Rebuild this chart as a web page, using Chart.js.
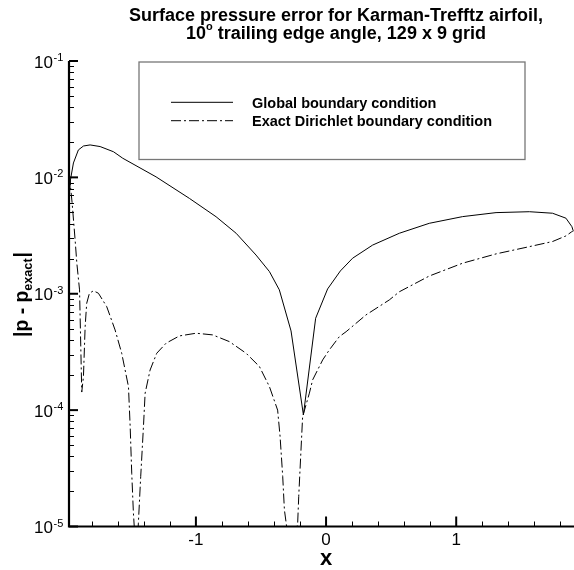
<!DOCTYPE html>
<html>
<head>
<meta charset="utf-8">
<title>Surface pressure error</title>
<script src="https://cdn.jsdelivr.net/npm/chart.js@4"></script>
<style>
    body { margin: 0; background: #fff; }
    canvas { display: block; }
</style>
</head>
<body>
<canvas id="errorChart" width="574" height="570"></canvas>
<script>
// Values
const globalX = [-1.972, -1.964, -1.941, -1.903, -1.864, -1.813, -1.736, -1.633, -1.562, -1.306, -1.050,
    -0.845, -0.691, -0.538, -0.435, -0.359, -0.269, -0.174, -0.080, 0.012, 0.110, 0.204, 0.358, 0.563,
    0.793, 1.049, 1.306, 1.562, 1.740, 1.843, 1.889, 1.899, 1.893];
const globalErr = [7.06e-3, 9.5e-3, 1.33e-2, 1.72e-2, 1.86e-2, 1.90e-2, 1.84e-2, 1.66e-2, 1.46e-2, 1.01e-2, 6.6e-3,
    4.59e-3, 3.31e-3, 2.15e-3, 1.55e-3, 1.08e-3, 4.79e-4, 9.1e-5, 6.16e-4, 1.10e-3, 1.57e-3, 2.02e-3, 2.62e-3, 3.31e-3,
    4.03e-3, 4.60e-3, 4.98e-3, 5.07e-3, 4.92e-3, 4.46e-3, 3.77e-3, 3.47e-3, 3.40e-3];

const dirichletX = [-1.972, -1.951, -1.928, -1.915, -1.894, -1.877, -1.864, -1.851, -1.839, -1.818, -1.787,
    -1.749, -1.685, -1.621, -1.570, -1.518, -1.505, -1.493, -1.480, -1.457, -1.442, -1.424, -1.403, -1.390,
    -1.352, -1.301, -1.229, -1.127, -0.998, -0.871, -0.743, -0.614, -0.512, -0.435, -0.372, -0.353, -0.333,
    -0.320, -0.267, -0.218, -0.210, -0.180, -0.128, -0.103, -0.026, 0.025, 0.102, 0.154, 0.307, 0.486, 0.563,
    0.793, 1.049, 1.306, 1.562, 1.740, 1.843, 1.889];
const dirichletErr = [1.05e-2, 6.03e-3, 2.90e-3, 1.84e-3, 1.08e-3, 1.43e-4, 1.94e-4, 5.21e-4, 8.28e-4, 1.01e-3, 1.06e-3,
    1.01e-3, 7.74e-4, 4.89e-4, 3.08e-4, 1.59e-4, 7.2e-5, 2.87e-5, 1.30e-5, 5.0e-6, 1.07e-5, 2.69e-5, 7.2e-5, 1.40e-4,
    2.21e-4, 3.08e-4, 3.76e-4, 4.34e-4, 4.58e-4, 4.43e-4, 3.88e-4, 3.08e-4, 2.37e-4, 1.59e-4, 1.00e-4, 5.9e-5, 2.69e-5,
    1.39e-5, 5.0e-6, 1.07e-5, 1.81e-5, 8.8e-5, 1.40e-4, 1.82e-4, 2.70e-4, 3.29e-4, 4.28e-4, 4.72e-4, 6.58e-4, 8.85e-4, 1.04e-3,
    1.42e-3, 1.83e-3, 2.20e-3, 2.54e-3, 2.81e-3, 3.14e-3, 3.42e-3];

const seriesLabels = ["Global boundary condition", "Exact Dirichlet boundary condition"];
const xTickLabels = [-1, 0, 1];
const yTickExponents = [-1, -2, -3, -4, -5];
const titleLine1 = "Surface pressure error for Karman-Trefftz airfoil,";
const titleLine2 = ["10", "o", " trailing edge angle, 129 x 9 grid"];

const FONT = '"Liberation Sans", Arial, Helvetica, sans-serif';

function toPoints(xs, ys) {
    return xs.map((x, i) => ({ x: x, y: ys[i] }));
}

const decorPlugin = {
    id: "decor",
    afterDraw(chart) {
        const ctx = chart.ctx;
        const xs = chart.scales.x;
        const ys = chart.scales.y;
        const area = chart.chartArea;
        ctx.save();
        ctx.fillStyle = "#000";
        ctx.strokeStyle = "#000";

        // axes
        ctx.lineWidth = 2.2;
        ctx.beginPath();
        ctx.moveTo(area.left, area.top);
        ctx.lineTo(area.left, area.bottom);
        ctx.lineTo(area.right, area.bottom);
        ctx.stroke();

        // y ticks (inside)
        ctx.lineWidth = 2;
        yTickExponents.forEach(e => {
            const py = ys.getPixelForValue(Math.pow(10, e));
            ctx.beginPath();
            ctx.moveTo(area.left, py);
            ctx.lineTo(area.left + 9, py);
            ctx.stroke();
        });
        ctx.lineWidth = 1;
        yTickExponents.forEach(e => {
            if (e === -1) return;
            for (let m = 2; m <= 9; m++) {
                const py = Math.round(ys.getPixelForValue(m * Math.pow(10, e))) + 0.5;
                ctx.beginPath();
                ctx.moveTo(area.left, py);
                ctx.lineTo(area.left + 5, py);
                ctx.stroke();
            }
        });

        // x ticks (inside)
        for (let i = -9; i <= 9; i++) {
            const px = xs.getPixelForValue(i / 5);
            const major = i % 5 === 0;
            const sx = major ? px : Math.round(px) + 0.5;
            ctx.lineWidth = major ? 2 : 1;
            ctx.beginPath();
            ctx.moveTo(sx, area.bottom);
            ctx.lineTo(sx, area.bottom - (major ? 10 : 5));
            ctx.stroke();
        }

        // y tick labels 10^e
        ctx.textBaseline = "alphabetic";
        yTickExponents.forEach(e => {
            const py = ys.getPixelForValue(Math.pow(10, e));
            ctx.font = "17px " + FONT;
            ctx.textAlign = "right";
            ctx.fillText("10", 53, py + 6.5);
            ctx.font = "11px " + FONT;
            ctx.textAlign = "left";
            ctx.fillText(String(e), 53.5, py);
        });

        // x tick labels
        ctx.font = "17px " + FONT;
        ctx.textAlign = "center";
        xTickLabels.forEach(v => {
            ctx.fillText(String(v), xs.getPixelForValue(v), 545);
        });

        // axis titles
        ctx.font = "bold 22px " + FONT;
        ctx.fillText("x", xs.getPixelForValue(0), 565);

        ctx.save();
        ctx.translate(28, 337);
        ctx.rotate(-Math.PI / 2);
        ctx.textAlign = "left";
        ctx.font = "bold 20px " + FONT;
        const partA = "|p - p";
        const wA = ctx.measureText(partA).width;
        ctx.font = "bold 13px " + FONT;
        const wB = ctx.measureText("exact").width;
        ctx.font = "bold 20px " + FONT;
        const wC = ctx.measureText("|").width;
        ctx.scale(84 / (wA + wB + wC), 1);
        ctx.fillText(partA, 0, 0);
        ctx.font = "bold 13px " + FONT;
        ctx.fillText("exact", wA, 4);
        ctx.font = "bold 20px " + FONT;
        ctx.fillText("|", wA + wB + 1, 0);
        ctx.restore();

        // title
        const titleCenter = 336;
        ctx.font = "bold 18px " + FONT;
        ctx.textAlign = "center";
        ctx.fillText(titleLine1, titleCenter, 21);
        ctx.textAlign = "left";
        const w10 = ctx.measureText(titleLine2[0]).width;
        const wRest = ctx.measureText(titleLine2[2]).width;
        ctx.font = "bold 11px " + FONT;
        const wDeg = ctx.measureText(titleLine2[1]).width;
        let tx = titleCenter - (w10 + wDeg + wRest) / 2;
        ctx.font = "bold 18px " + FONT;
        ctx.fillText(titleLine2[0], tx, 39);
        ctx.font = "bold 11px " + FONT;
        ctx.fillText(titleLine2[1], tx + w10, 30);
        ctx.font = "bold 18px " + FONT;
        ctx.fillText(titleLine2[2], tx + w10 + wDeg, 39);

        // legend box
        ctx.strokeStyle = "#777";
        ctx.lineWidth = 1.3;
        ctx.strokeRect(139, 62, 386, 97.5);
        chart.data.datasets.forEach((ds, i) => {
            const ly = 102.3 + i * 18.4;
            ctx.strokeStyle = "#000";
            ctx.lineWidth = 1;
            ctx.setLineDash(ds.borderDash || []);
            ctx.beginPath();
            ctx.moveTo(171, ly);
            ctx.lineTo(233, ly);
            ctx.stroke();
            ctx.setLineDash([]);
            ctx.font = "bold 14.5px " + FONT;
            ctx.fillText(ds.label, 252, ly + 5.5);
        });
        ctx.restore();
    }
};

const ctxError = document.getElementById("errorChart").getContext("2d");
new Chart(ctxError, {
    type: "scatter",
    data: {
        datasets: [{
            label: seriesLabels[0],
            data: toPoints(globalX, globalErr),
            showLine: true,
            borderColor: "#000",
            borderWidth: 1,
            pointRadius: 0,
            tension: 0
        }, {
            label: seriesLabels[1],
            data: toPoints(dirichletX, dirichletErr),
            showLine: true,
            borderColor: "#000",
            borderWidth: 1,
            borderDash: [10, 3, 2, 3],
            pointRadius: 0,
            tension: 0
        }]
    },
    options: {
        responsive: false,
        animation: false,
        layout: { padding: { left: 69, top: 61, right: 0, bottom: 43.5 } },
        plugins: { legend: { display: false }, tooltip: { enabled: false } },
        scales: {
            x: { type: "linear", min: -1.975, max: 1.905, display: false },
            y: { type: "logarithmic", min: 1e-5, max: 1e-1, display: false }
        }
    },
    plugins: [decorPlugin]
});
</script>
</body>
</html>
